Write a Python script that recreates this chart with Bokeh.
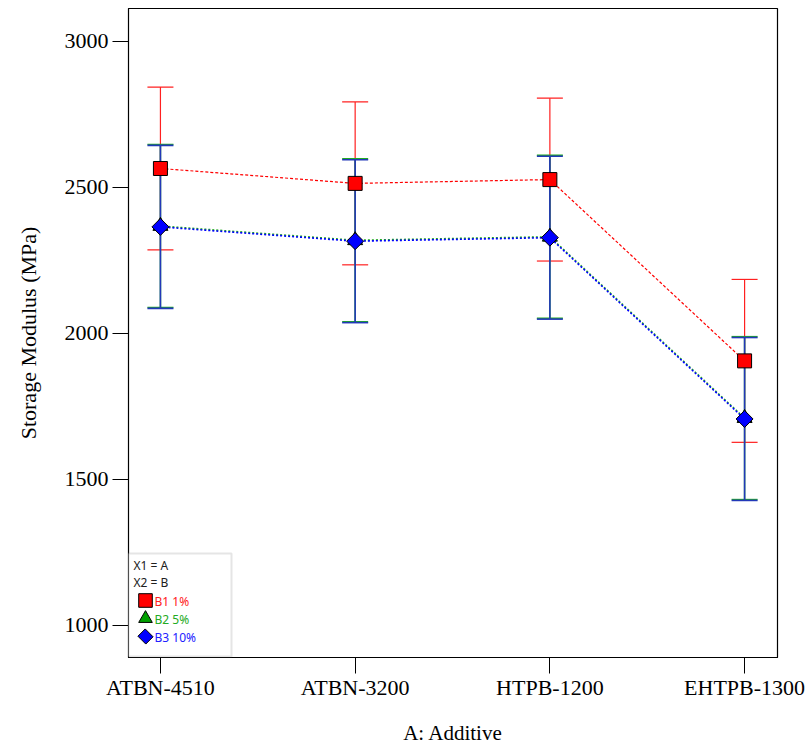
import math
from bokeh.plotting import figure
from bokeh.models import (ColumnDataSource, Whisker, TeeHead, FixedTicker, Range1d,
                          Legend, LegendItem, BoxAnnotation, Label)
from bokeh.embed import file_html
from bokeh.resources import INLINE

# ---- data ----
categories = ["ATBN-4510", "ATBN-3200", "HTPB-1200", "EHTPB-1300"]
b1_values = [2565, 2514, 2527, 1906]   # B1 1%
b2_values = [2368, 2319, 2331, 1710]   # B2 5%
b3_values = [2365, 2316, 2328, 1707]   # B3 10%
b1_half = [279, 279, 279, 279]         # LSD half widths
b2_half = [279, 279, 279, 279]
b3_half = [279, 279, 279, 279]
y_ticks = [1000, 1500, 2000, 2500, 3000]

xs = list(range(len(categories)))

def src(vals, half):
    return ColumnDataSource(dict(x=xs, y=vals,
                                 lower=[v - h for v, h in zip(vals, half)],
                                 upper=[v + h for v, h in zip(vals, half)]))

s1 = src(b1_values, b1_half)
s2 = src(b2_values, b2_half)
s3 = src(b3_values, b3_half)

p = figure(width=808, height=747, output_backend="svg", toolbar_location=None,
           x_range=Range1d(-0.164, 3.169), y_range=Range1d(890, 3113),
           min_border_left=128, min_border_right=31, min_border_top=8, min_border_bottom=90)

p.xgrid.visible = False
p.ygrid.visible = False
p.outline_line_color = "black"
p.outline_line_width = 1.2
p.background_fill_color = "white"
p.border_fill_color = "white"

SERIF = "Liberation Serif"

# x axis
p.xaxis.ticker = FixedTicker(ticks=xs)
p.xaxis.major_label_overrides = {i: c for i, c in enumerate(categories)}
p.xaxis.minor_tick_line_color = None
p.xaxis.major_tick_out = 16
p.xaxis.major_tick_in = 0
p.xaxis.major_label_standoff = 1
p.xaxis.major_label_text_font = SERIF
p.xaxis.major_label_text_font_size = "22px"
p.xaxis.major_label_text_color = "black"
p.xaxis.axis_label = "A: Additive"
p.xaxis.axis_label_text_font = SERIF
p.xaxis.axis_label_text_font_size = "21px"
p.xaxis.axis_label_text_font_style = "normal"
p.xaxis.axis_label_text_color = "black"
p.xaxis.axis_label_standoff = 18
p.xaxis.axis_line_color = "black"
p.xaxis.major_tick_line_color = "black"

# y axis
p.yaxis.ticker = FixedTicker(ticks=y_ticks)
p.yaxis.minor_tick_line_color = None
p.yaxis.major_tick_out = 16
p.yaxis.major_tick_in = 0
p.yaxis.major_label_standoff = 4
p.yaxis.major_label_text_font = SERIF
p.yaxis.major_label_text_font_size = "22px"
p.yaxis.major_label_text_color = "black"
p.yaxis.axis_label = "Storage Modulus (MPa)"
p.yaxis.axis_label_text_font = SERIF
p.yaxis.axis_label_text_font_size = "22px"
p.yaxis.axis_label_text_font_style = "normal"
p.yaxis.axis_label_text_color = "black"
p.yaxis.axis_label_standoff = 21
p.yaxis.axis_line_color = "black"
p.yaxis.major_tick_line_color = "black"

# error bars
for s, col, lw in [(s1, "#ff2020", 1.2), (s2, "#22aa22", 1.5), (s3, "#2238b8", 1.6)]:
    w = Whisker(source=s, base="x", lower="lower", upper="upper",
                line_color=col, line_width=lw,
                upper_head=TeeHead(size=26, line_color=col, line_width=lw),
                lower_head=TeeHead(size=26, line_color=col, line_width=lw))
    p.add_layout(w)

# connecting lines
p.line("x", "y", source=s1, line_color="#ff0000", line_width=1.2, line_dash="3 2")
p.line("x", "y", source=s2, line_color="#22aa22", line_width=1.6, line_dash="2 2")
p.line("x", "y", source=s3, line_color="#0000ff", line_width=1.6, line_dash="2 2")

# markers
r1 = p.scatter("x", "y", source=s1, marker="square", size=14,
               fill_color="#ff0000", line_color="black", line_width=1)
r2 = p.scatter("x", "y", source=s2, marker="triangle", size=15,
               fill_color="#00a000", line_color="black", line_width=1)
r3 = p.scatter("x", "y", source=s3, marker="square", size=12, angle=math.pi / 4,
               fill_color="#0000ff", line_color="black", line_width=1)

# legend box
box = BoxAnnotation(left=0, right=103, bottom=1, top=104,
                    left_units="screen", right_units="screen",
                    top_units="screen", bottom_units="screen",
                    fill_color="white", fill_alpha=1.0,
                    line_color="#a8a8a8", line_width=2)
p.add_layout(box)

SANS = "Noto Sans"
legend_rows = [("X1 = A", "#202020", 92, 5), ("X2 = B", "#202020", 75, 5),
               ("B1 1%", "#ff2020", 56, 26), ("B2 5%", "#22aa22", 38, 26),
               ("B3 10%", "#2020ff", 20, 26)]
for txt, col, yy, xx in legend_rows:
    p.add_layout(Label(x=xx, y=yy, x_units="screen", y_units="screen", text=txt,
                       text_font=SANS, text_font_size="12px", text_color=col,
                       text_baseline="middle", text_align="left"))

for rend, ly in [(r1, 40), (r2, 22)]:
    lg = Legend(items=[LegendItem(label=" ", renderers=[rend])],
                location=(0, ly), glyph_width=34, glyph_height=34,
                padding=0, margin=0, spacing=0, label_standoff=0,
                label_text_alpha=0, border_line_color=None,
                background_fill_alpha=0, click_policy="none")
    p.add_layout(lg)

# legend diamond for B3 (rotated square box)
p.add_layout(Label(x=17, y=21, x_units="screen", y_units="screen", text=" ",
                   text_font_size="1px", angle=math.pi / 4,
                   text_align="center", text_baseline="middle",
                   background_fill_color="#0000ff", background_fill_alpha=1.0,
                   border_line_color="black", border_line_width=1, padding=5))

open("out.html", "w").write(file_html(p, INLINE))
